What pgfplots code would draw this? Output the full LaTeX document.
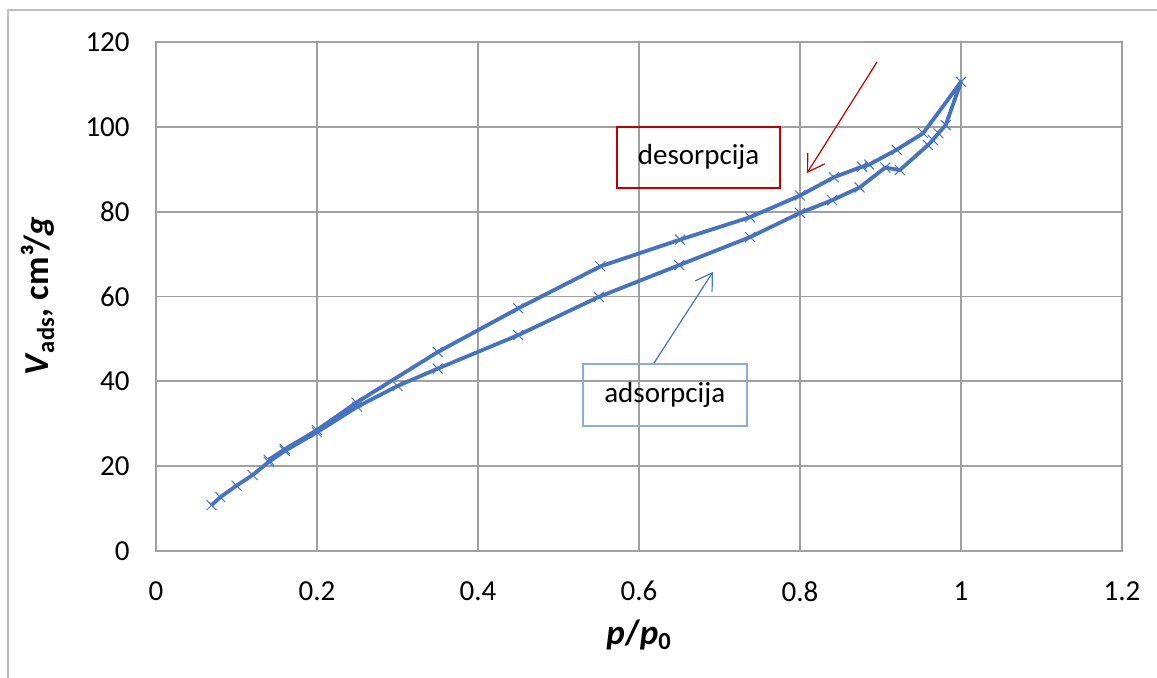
\documentclass[border=0pt]{standalone}
\usepackage{pgfplots}
\pgfplotsset{compat=1.18}
\usepackage{fontspec}
\setmainfont{Carlito}
\usetikzlibrary{arrows.meta}
\definecolor{serblue}{HTML}{4472C4}
\definecolor{gridgray}{HTML}{A0A0A0}
\definecolor{boxred}{HTML}{C00000}
\definecolor{boxblue}{HTML}{8FAADC}
\begin{document}
\begin{tikzpicture}
\useasboundingbox (0,0) rectangle (578.5pt,339pt);
\draw[gray!50, line width=1pt] (4pt,0) -- (4pt,334pt) -- (578.5pt,334pt);
\begin{axis}[
 at={(78pt,63.5pt)}, anchor=south west,
 width=483pt, height=254.5pt, scale only axis,
 xmin=0, xmax=1.2, ymin=0, ymax=120,
 xtick={0,0.2,0.4,0.6,0.8,1,1.2}, ytick={0,20,40,60,80,100,120},
 xticklabels={0,0.2,0.4,0.6,0.8,1,1.2},
 yticklabels={0,20,40,60,80,100,120},
 grid=major, grid style={gridgray, line width=0.9pt},
 axis line style={gridgray, line width=0.9pt},
 major tick length=0pt,
 tick label style={font=\fontsize{14.5}{16}\selectfont, inner sep=0pt},
 yticklabel style={anchor=east, xshift=-13pt},
 xticklabel style={anchor=north, yshift=-15pt},
 /pgf/number format/assume math mode=true,
 xlabel={\textbf{\textit{p}/\textit{p}\textsubscript{0}}},
 ylabel={\textbf{\textit{V}\textsubscript{ads}, cm³/\textit{g}}},
 label style={font=\fontsize{17.5}{20}\selectfont},
 xlabel style={at={(axis description cs:0.5,-0.165)}, anchor=center},
 ylabel style={at={(axis description cs:-0.122,0.5)}, anchor=center},
 clip=false,
]
\addplot[serblue, line width=1.9pt, line join=round, mark=x, mark size=3.5pt, mark options={line width=0.5pt, solid}] coordinates {
(0.069,10.8) (0.08,12.7) (0.1,15.4) (0.12,17.9) (0.14,21.0) (0.16,23.6) (0.2,28.0) (0.25,34.0) (0.3,38.9) (0.35,43.0) (0.45,50.9) (0.55,59.9) (0.65,67.4) (0.738,74.0) (0.8,79.7) (0.84,82.7) (0.874,85.7) (0.906,90.4) (0.924,89.8) (0.959,95.7) (0.965,96.9) (0.972,98.5) (0.981,100.4) (1.0,110.6)
(0.953,98.5) (0.92,94.6) (0.886,91.1) (0.877,90.6) (0.842,88.1) (0.8,83.8) (0.738,78.7) (0.651,73.4) (0.552,67.1) (0.45,57.2) (0.35,46.9) (0.249,35.0) (0.2,28.5) (0.16,24.0) (0.14,21.5)
};
\draw[boxred, line width=0.8pt] (axis cs:0.5727,85.57) rectangle (axis cs:0.7752,99.95);
\node[font=\fontsize{14.5}{16}\selectfont] at (axis cs:0.674,92.8) {desorpcija};
\draw[boxred, line width=0.6pt, -{Straight Barb[length=8pt,width=10pt]}] (axis cs:0.8957,115.3) -- (axis cs:0.8087,89.1);
\draw[boxblue, line width=0.8pt] (axis cs:0.5304,29.47) rectangle (axis cs:0.7342,44.08);
\node[font=\fontsize{14.5}{16}\selectfont] at (axis cs:0.632,36.8) {adsorpcija};
\draw[serblue, line width=0.6pt, -{Straight Barb[length=8pt,width=10pt]}] (axis cs:0.6186,44.3) -- (axis cs:0.6919,65.8);
\end{axis}
\end{tikzpicture}
\end{document}
